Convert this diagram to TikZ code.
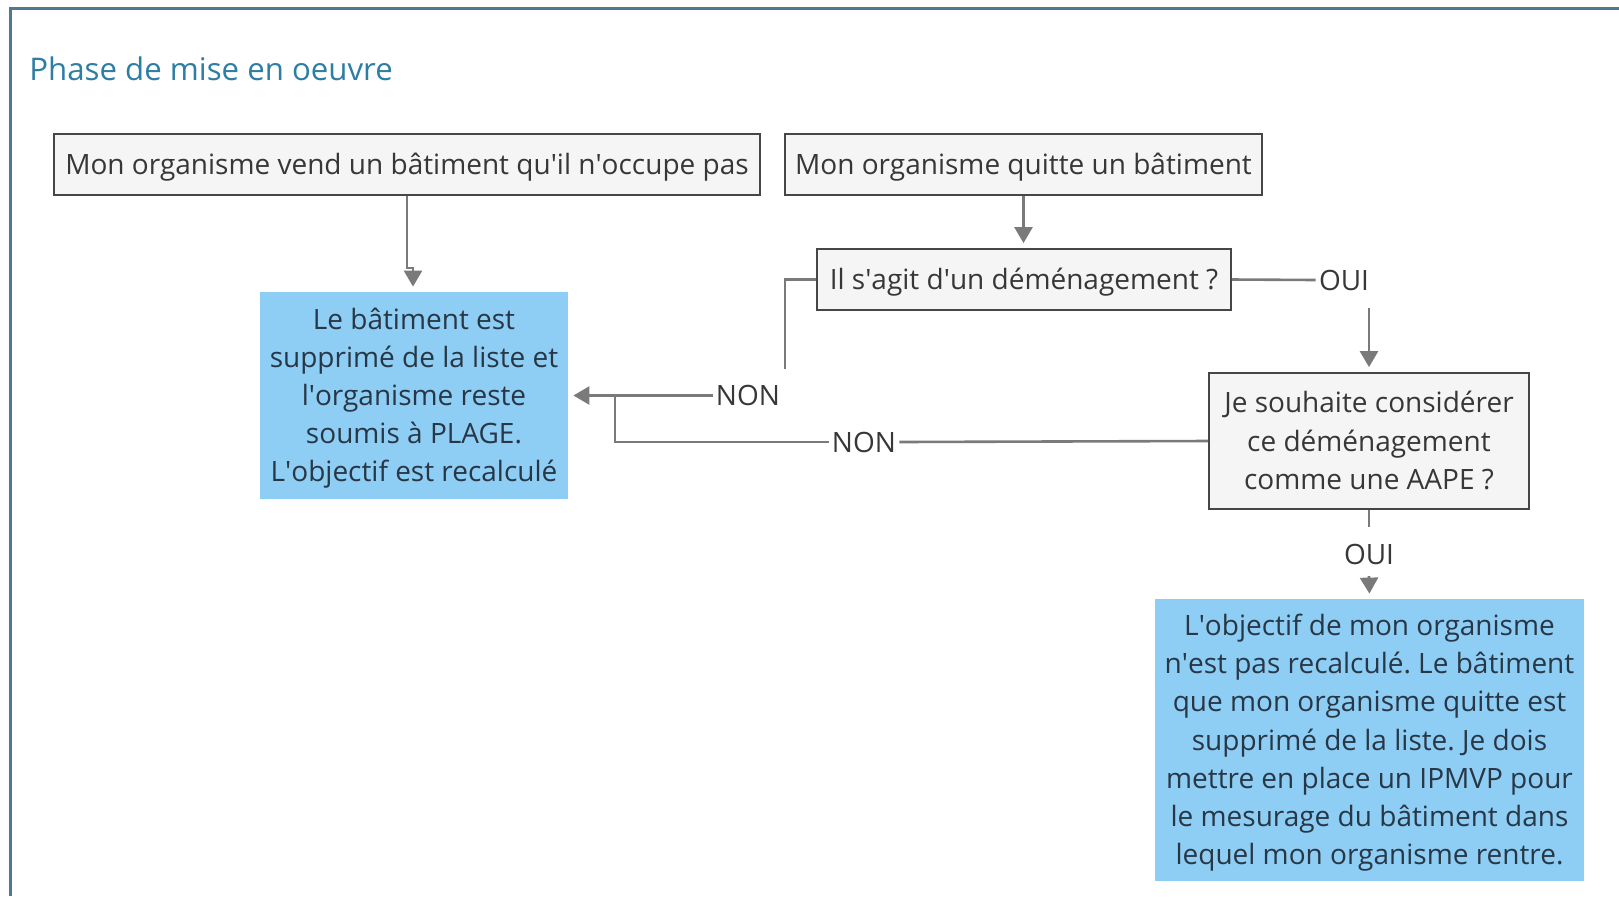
\documentclass[tikz,border=0pt]{standalone}
\usepackage{fontspec}
\setmainfont{Open Sans}
\usetikzlibrary{arrows.meta}
\definecolor{boxfill}{RGB}{245,245,245}
\definecolor{boxline}{RGB}{70,70,70}
\definecolor{bluefill}{RGB}{142,205,244}
\definecolor{txt}{RGB}{55,55,55}
\definecolor{bluetxt}{RGB}{40,55,70}
\definecolor{conncol}{RGB}{122,122,122}
\definecolor{framecol}{RGB}{80,120,145}
\definecolor{titlecol}{RGB}{45,125,165}
\newcommand\ap{\textquotesingle}
\newcommand\tops{\rule{0pt}{14pt}}
\newcommand\bots{\rule[-4pt]{0pt}{4pt}}
\newcommand\ones{\rule[-4pt]{0pt}{18pt}}
\frenchspacing
\begin{document}
\begin{tikzpicture}[x=0.5pt,y=-0.5pt,
  every node/.style={font=\fontsize{14}{19.1}\selectfont, text=txt},
  graybox/.style={draw=boxline, line width=0.9pt, fill=boxfill, inner sep=0pt, align=center},
  bluebox/.style={fill=bluefill, inner sep=0pt, align=center, text=bluetxt},
  lbl/.style={inner sep=1.5pt},
  conn/.style={draw=conncol, line width=1.3pt},
  arr/.style={conn, -{Triangle[width=9pt,length=8pt]}, shorten >=2.5pt},
]
\useasboundingbox (0,0) rectangle (1619,896);
\fill[white] (0,0) rectangle (1619,896);
\draw[framecol, line width=1.5pt] (10,896) -- (10,8) -- (1619,8);
\node[anchor=west, inner sep=0pt, text=titlecol, font=\fontsize{15.6}{18}\selectfont] (title) at (29,69) {Phase de mise en oeuvre};

\node[graybox, minimum width=353pt, minimum height=30.5pt] (b1) at (407,164.5) {\ones Mon organisme vend un bâtiment qu\ap il n\ap occupe pas};
\node[graybox, minimum width=238.5pt, minimum height=30.5pt] (b2) at (1023.5,164.5) {\ones Mon organisme quitte un bâtiment};
\node[graybox, minimum width=207pt, minimum height=30.5pt] (b3) at (1024,279.5) {\ones Il s\ap agit d\ap un déménagement ?};
\node[bluebox, minimum width=154pt, minimum height=103.5pt] (bl) at (414,395.5) {\tops Le bâtiment est\\supprimé de la liste et\\l\ap organisme reste\\soumis à PLAGE.\\L\ap objectif est recalculé\bots};
\node[graybox, minimum width=160pt, minimum height=68pt] (b4) at (1369,441) {\tops Je souhaite considérer\\ce déménagement\\comme une AAPE ?\bots};
\node[bluebox, minimum width=214.5pt, minimum height=141pt] (br) at (1369.5,740) {\tops L\ap objectif de mon organisme\\n\ap est pas recalculé. Le bâtiment\\que mon organisme quitte est\\supprimé de la liste. Je dois\\mettre en place un IPMVP pour\\le mesurage du bâtiment dans\\lequel mon organisme rentre.\bots};

\node[lbl] (oui1) at (1344,280) {OUI};
\node[lbl] (non1) at (748,395.5) {NON};
\node[lbl] (non2) at (864,442) {NON};
\node[lbl] (oui2) at (1369,554) {OUI};

\coordinate (j1) at (413,268);
\coordinate (c1) at (1369,308);
\coordinate (c2) at (785,369);
\coordinate (c3) at (615,395.5);
\coordinate (c4) at (1369,527);
\coordinate (c5) at (1369,576);

\draw[arr] (b1.south) |- (j1) -- (j1 |- bl.north);
\draw[arr] (b2.south) -- (b2.south |- b3.north);
\draw[conn] (b3.east) -- (oui1.west);
\draw[arr] (c1) -- (b4.north);
\draw[conn] (b3.west) -| (c2);
\draw[arr] (non1.west) -- (bl.east);
\draw[conn] (b4.west) -- (non2.east);
\draw[conn] (non2.west) -| (c3);
\draw[conn] (b4.south) -- (c4);
\draw[arr] (c5) -- (br.north);
\end{tikzpicture}
\end{document}
